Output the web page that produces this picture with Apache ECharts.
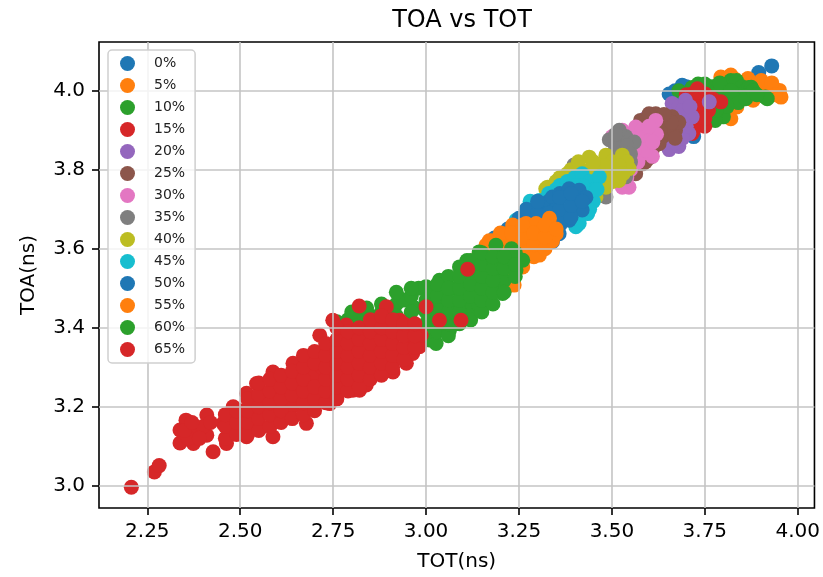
<!DOCTYPE html>
<html>
<head>
<meta charset="utf-8">
<script src="https://cdn.jsdelivr.net/npm/echarts@6/dist/echarts.min.js"></script>
<style>
  html, body { margin: 0; padding: 0; background: #fff; }
  #chart { width: 823px; height: 577px; }
</style>
</head>
<body>
<div id="chart"></div>
<script>
// Legend names, one per measurement set
const levels = ['0%', '5%', '10%', '15%', '20%', '25%', '30%', '35%', '40%', '45%', '50%', '55%', '60%', '65%'];

// Tick values on each axis
const xTicks = [2.25, 2.50, 2.75, 3.00, 3.25, 3.50, 3.75, 4.00];
const yTicks = [3.0, 3.2, 3.4, 3.6, 3.8, 4.0];

// [TOT, TOA] pairs in ns for each level
const p00 = [[3.654,3.992],[3.665,3.98],[3.689,4.014],[3.70,3.97],[3.72,3.884],[3.73,3.95],[3.75,3.99],[3.78,4.00],[3.81,3.99],[3.85,4.00],[3.895,4.046],[3.93,4.063],
  [3.67,4.00],[3.70,4.01],[3.72,4.00],[3.76,4.01],[3.83,4.01]];
const p05 = [[3.72,3.97],[3.74,4.01],[3.76,3.98],[3.793,4.035],[3.80,3.95],[3.814,4.035],[3.82,4.04],[3.82,3.929],[3.836,3.959],[3.85,4.02],[3.866,4.031],[3.87,3.99],[3.88,3.976],[3.89,4.01],[3.902,4.026],[3.92,4.00],[3.951,4.001],[3.955,3.984],[3.90,3.99],
  [3.83,4.03],[3.86,4.02],[3.93,4.02],[3.84,3.99],[3.81,3.95],[3.94,3.99],[3.78,3.94]];
const p10 = [[3.68,4.00],[3.716,4.008],[3.732,4.017],[3.75,4.017],[3.77,4.01],[3.786,3.976],[3.786,4.009],[3.80,3.99],[3.80,3.934],[3.82,4.026],[3.835,4.026],[3.83,3.992],[3.85,4.01],[3.86,4.001],[3.868,4.008],[3.875,4.009],[3.913,3.984],[3.918,3.98],[3.778,3.934],[3.778,3.925],[3.84,3.97],[3.76,3.96],
  [3.79,4.02],[3.82,4.00],[3.86,3.98],[3.88,4.00],[3.81,3.96],[3.89,3.99],[3.78,3.95]];
const p15 = [[3.70,3.99],[3.716,3.992],[3.73,4.005],[3.751,3.992],[3.725,3.959],[3.74,3.97],[3.743,3.917],[3.716,3.892],[3.73,3.93],[3.76,3.95],[3.75,3.91],[3.793,3.972],[3.77,3.98],
  [3.72,3.98],[3.74,3.94],[3.72,3.90],[3.76,3.97],[3.73,3.96],[3.75,3.93],[3.71,3.94]];
const p20 = [[3.591,3.93],[3.645,3.876],[3.654,3.851],[3.662,3.968],[3.662,3.908],[3.68,3.959],[3.68,3.859],[3.68,3.90],[3.698,3.976],[3.70,3.94],[3.707,3.892],[3.716,3.934],[3.69,3.88],[3.762,3.972],[3.67,3.93],
  [3.66,3.94],[3.69,3.95],[3.70,3.91],[3.67,3.87],[3.71,3.96],[3.69,3.92],[3.66,3.89]];
const p25 = [[3.564,3.79],[3.582,3.815],[3.60,3.83],[3.609,3.851],[3.62,3.87],[3.636,3.884],[3.65,3.90],[3.671,3.90],[3.662,3.934],[3.618,3.942],[3.577,3.925],[3.60,3.942],[3.64,3.92],[3.654,3.908],[3.627,3.866],[3.68,3.92],[3.60,3.91],
  [3.59,3.82],[3.63,3.90],[3.66,3.92],[3.61,3.88],[3.64,3.94],[3.67,3.88]];
const p30 = [[3.501,3.884],[3.519,3.891],[3.528,3.90],[3.55,3.89],[3.564,3.908],[3.58,3.90],[3.60,3.884],[3.618,3.925],[3.62,3.89],[3.591,3.884],[3.57,3.86],[3.564,3.834],[3.58,3.84],[3.609,3.834],[3.55,3.80],[3.537,3.782],[3.528,3.756],[3.546,3.756],[3.59,3.87],[3.56,3.87],
  [3.54,3.87],[3.57,3.88],[3.60,3.91],[3.57,3.82],[3.59,3.85],[3.56,3.85],[3.61,3.87],[3.54,3.78]];
const p35 = [[3.398,3.812],[3.484,3.731],[3.484,3.756],[3.50,3.80],[3.493,3.876],[3.51,3.86],[3.52,3.83],[3.53,3.88],[3.537,3.884],[3.537,3.782],[3.546,3.851],[3.55,3.82],[3.56,3.87],[3.52,3.90],[3.50,3.84],
  [3.52,3.86],[3.54,3.86],[3.51,3.89],[3.55,3.84],[3.53,3.81],[3.49,3.78]];
const p40 = [[3.278,3.70],[3.322,3.752],[3.327,3.756],[3.36,3.78],[3.39,3.80],[3.41,3.82],[3.439,3.832],[3.46,3.81],[3.484,3.837],[3.50,3.82],[3.51,3.80],[3.528,3.837],[3.546,3.803],[3.519,3.773],[3.484,3.756],[3.457,3.731],[3.439,3.706],[3.47,3.78],[3.43,3.77],[3.49,3.79],[3.54,3.82],
  [3.35,3.77],[3.38,3.79],[3.44,3.80],[3.46,3.76],[3.48,3.81],[3.50,3.77],[3.52,3.81],[3.45,3.82],[3.53,3.79]];
const p45 = [[3.242,3.672],[3.27,3.70],[3.305,3.714],[3.305,3.722],[3.33,3.74],[3.36,3.76],[3.38,3.77],[3.40,3.78],[3.42,3.79],[3.44,3.77],[3.448,3.748],[3.466,3.782],[3.435,3.689],[3.412,3.664],[3.403,3.656],[3.45,3.72],[3.39,3.73],
  [3.28,3.72],[3.35,3.75],[3.42,3.76],[3.46,3.75],[3.44,3.70],[3.40,3.76]];
const p50 = [[3.184,3.627],[3.22,3.65],[3.25,3.677],[3.269,3.681],[3.29,3.70],[3.30,3.68],[3.322,3.698],[3.33,3.72],[3.34,3.731],[3.34,3.618],[3.35,3.70],[3.358,3.638],[3.36,3.74],[3.37,3.69],[3.385,3.752],[3.385,3.672],[3.40,3.72],[3.412,3.748],[3.42,3.698],[3.43,3.73],[3.36,3.66],[3.31,3.67],
  [3.21,3.64],[3.24,3.66],[3.27,3.67],[3.27,3.70],[3.30,3.69],[3.30,3.72],[3.33,3.66],[3.33,3.69],[3.36,3.67],[3.36,3.70],[3.36,3.73],[3.39,3.68],[3.39,3.71],[3.39,3.74],[3.42,3.72]];
const p55 = [[3.143,3.588],[3.161,3.609],[3.18,3.62],[3.20,3.60],[3.215,3.638],[3.22,3.58],[3.233,3.66],[3.24,3.62],[3.237,3.508],[3.25,3.64],[3.25,3.59],[3.26,3.554],[3.269,3.664],[3.27,3.62],[3.28,3.60],[3.29,3.65],[3.296,3.664],[3.30,3.63],[3.305,3.584],[3.31,3.61],[3.32,3.65],[3.332,3.677],[3.34,3.62],[3.35,3.638],[3.26,3.60],[3.23,3.53],
  [3.17,3.59],[3.17,3.62],[3.20,3.58],[3.20,3.61],[3.20,3.64],[3.23,3.55],[3.23,3.58],[3.23,3.61],[3.23,3.64],[3.26,3.57],[3.26,3.63],[3.26,3.66],[3.29,3.58],[3.29,3.61],[3.29,3.64],[3.32,3.60],[3.32,3.63],[3.32,3.66],[3.35,3.65]];
const p60 = [[2.76,3.415],[2.79,3.42],[2.82,3.427],[2.85,3.43],[2.866,3.427],[2.88,3.44],[2.90,3.45],[2.92,3.46],[2.94,3.47],[2.96,3.48],[2.97,3.45],[2.98,3.50],[3.00,3.504],[3.00,3.47],[3.01,3.43],[3.009,3.369],[3.02,3.49],[3.027,3.36],[3.03,3.45],[3.036,3.52],[3.04,3.41],[3.05,3.48],[3.054,3.394],[3.06,3.53],[3.063,3.394],[3.07,3.46],[3.08,3.50],[3.09,3.554],[3.09,3.43],[3.10,3.48],[3.11,3.57],[3.11,3.52],[3.12,3.45],[3.13,3.50],[3.14,3.55],[3.143,3.592],[3.143,3.453],[3.15,3.48],[3.16,3.52],[3.17,3.57],[3.18,3.50],[3.188,3.609],[3.19,3.54],[3.20,3.58],[3.206,3.487],[3.21,3.52],[3.22,3.56],[3.23,3.60],[3.242,3.546],[3.26,3.571],[3.24,3.59],[3.08,3.41],[3.02,3.40],
  [2.80,3.41],[2.80,3.44],[2.84,3.42],[2.84,3.45],[2.88,3.43],[2.88,3.46],[2.92,3.43],[2.92,3.49],[2.96,3.44],[2.96,3.50],[3.00,3.41],[3.00,3.44],[3.03,3.39],[3.03,3.42],[3.03,3.48],[3.03,3.51],[3.06,3.38],[3.06,3.41],[3.06,3.44],[3.06,3.47],[3.06,3.50],
  [3.09,3.41],[3.09,3.44],[3.09,3.47],[3.09,3.50],[3.09,3.53],[3.12,3.42],[3.12,3.48],[3.12,3.51],[3.12,3.54],[3.12,3.57],[3.15,3.44],[3.15,3.47],[3.15,3.50],[3.15,3.53],[3.15,3.56],[3.15,3.59],
  [3.18,3.46],[3.18,3.49],[3.18,3.52],[3.18,3.55],[3.18,3.58],[3.21,3.49],[3.21,3.55],[3.21,3.58],[3.24,3.53],[3.24,3.56]];
const p65 = [[2.207,2.996],[2.269,3.035],[2.282,3.051],[2.338,3.141],[2.338,3.108],[2.354,3.166],[2.374,3.107],[2.383,3.145],[2.41,3.179],[2.41,3.128],[2.427,3.086],[2.36,3.12],[2.40,3.15],[2.454,3.158],[2.463,3.107],[2.481,3.20],[2.47,3.13],[2.49,3.17],[2.50,3.19],[2.517,3.124],[2.517,3.234],[2.52,3.15],[2.53,3.21],[2.544,3.259],[2.553,3.145],[2.55,3.18],[2.56,3.23],[2.57,3.20],[2.588,3.124],[2.588,3.288],[2.59,3.16],[2.59,3.24],[2.60,3.21],[2.61,3.27],[2.62,3.18],[2.62,3.23],[2.63,3.25],[2.642,3.31],[2.64,3.20],[2.65,3.28],[2.66,3.23],[2.67,3.26],[2.678,3.158],[2.68,3.30],[2.68,3.20],[2.69,3.24],[2.696,3.217],[2.70,3.28],[2.70,3.33],[2.714,3.381],[2.72,3.25],[2.72,3.30],[2.73,3.35],[2.741,3.208],[2.749,3.419],[2.749,3.259],[2.75,3.30],[2.76,3.33],[2.77,3.28],[2.77,3.37],[2.785,3.407],[2.79,3.31],[2.80,3.35],[2.803,3.242],[2.81,3.29],[2.82,3.38],[2.82,3.455],[2.821,3.242],[2.83,3.32],[2.839,3.255],[2.85,3.35],[2.85,3.29],[2.86,3.40],[2.87,3.33],[2.88,3.37],[2.893,3.453],[2.893,3.407],[2.90,3.31],[2.91,3.35],[2.911,3.288],[2.92,3.39],[2.929,3.419],[2.93,3.33],[2.947,3.31],[2.95,3.37],[2.964,3.335],[2.97,3.40],[2.982,3.352],[2.987,3.381],[3.00,3.453],[3.036,3.419],[3.094,3.419],[3.112,3.548],
  [2.35,3.14],[2.39,3.12],[2.42,3.16],[2.37,3.16],
  [2.46,3.12],[2.46,3.15],[2.46,3.18],[2.49,3.13],[2.49,3.16],[2.49,3.19],[2.52,3.13],[2.52,3.16],[2.52,3.19],[2.52,3.22],
  [2.55,3.14],[2.55,3.17],[2.55,3.20],[2.55,3.23],[2.55,3.26],[2.58,3.15],[2.58,3.18],[2.58,3.21],[2.58,3.24],[2.58,3.27],
  [2.61,3.16],[2.61,3.19],[2.61,3.22],[2.61,3.25],[2.61,3.28],[2.64,3.17],[2.64,3.23],[2.64,3.26],[2.64,3.29],
  [2.67,3.18],[2.67,3.21],[2.67,3.24],[2.67,3.27],[2.67,3.30],[2.67,3.33],[2.70,3.19],[2.70,3.22],[2.70,3.25],[2.70,3.31],[2.70,3.34],
  [2.73,3.21],[2.73,3.24],[2.73,3.27],[2.73,3.30],[2.73,3.33],[2.73,3.36],[2.76,3.22],[2.76,3.25],[2.76,3.28],[2.76,3.31],[2.76,3.34],[2.76,3.37],[2.76,3.40],
  [2.79,3.24],[2.79,3.27],[2.79,3.30],[2.79,3.33],[2.79,3.36],[2.79,3.39],[2.82,3.25],[2.82,3.28],[2.82,3.31],[2.82,3.34],[2.82,3.37],[2.82,3.40],
  [2.85,3.27],[2.85,3.30],[2.85,3.33],[2.85,3.36],[2.85,3.39],[2.85,3.42],[2.88,3.28],[2.88,3.31],[2.88,3.34],[2.88,3.37],[2.88,3.40],[2.88,3.43],
  [2.91,3.30],[2.91,3.33],[2.91,3.36],[2.91,3.39],[2.91,3.42],[2.94,3.32],[2.94,3.35],[2.94,3.38],[2.94,3.41],[2.97,3.35],[2.97,3.38],[2.97,3.41]];

const levelPoints = [p00, p05, p10, p15, p20, p25, p30, p35, p40, p45, p50, p55, p60, p65];

// matplotlib tab10 cycle
const palette = ['#1f77b4', '#ff7f0e', '#2ca02c', '#d62728', '#9467bd', '#8c564b', '#e377c2', '#7f7f7f', '#bcbd22', '#17becf'];

const FONT = 'DejaVu Sans';
const chart = echarts.init(document.getElementById('chart'), null, { renderer: 'canvas' });

const gridLine = { show: true, lineStyle: { color: '#c4c4c4', width: 1.6 } };
const tickStyle = { show: true, inside: false, length: 7, lineStyle: { color: '#000', width: 1.6 } };

chart.setOption({
  animation: false,
  backgroundColor: '#fff',
  title: {
    text: 'TOA vs TOT',
    left: 457, textAlign: 'center', top: 4,
    textStyle: { fontFamily: FONT, fontSize: 24, fontWeight: 'normal', color: '#000' }
  },
  grid: {
    left: 99, right: 7, top: 42, bottom: 69,
    show: true, borderColor: '#000', borderWidth: 1.6, backgroundColor: 'transparent'
  },
  legend: {
    orient: 'vertical', left: 108, top: 50,
    data: levels, icon: 'circle',
    itemWidth: 15, itemHeight: 15, itemGap: 7,
    padding: [6, 10, 6, 12],
    borderColor: '#cfcfcf', borderWidth: 1.5, borderRadius: 4,
    backgroundColor: 'rgba(255,255,255,0.8)',
    textStyle: { fontFamily: FONT, fontSize: 14, color: '#222', padding: [0, 0, 0, 14] },
    selectedMode: false
  },
  xAxis: {
    type: 'value', min: 2.120, max: 4.045, z: 3,
    name: 'TOT(ns)', nameLocation: 'middle', nameGap: 44,
    nameTextStyle: { fontFamily: FONT, fontSize: 20, color: '#000' },
    axisLine: { show: false },
    axisTick: Object.assign({ customValues: xTicks }, tickStyle),
    axisLabel: { customValues: xTicks, margin: 14, fontFamily: FONT, fontSize: 20, color: '#000',
                 formatter: v => v.toFixed(2) },
    splitLine: gridLine
  },
  yAxis: {
    type: 'value', min: 2.9436, max: 4.1235, z: 3,
    name: 'TOA(ns)', nameLocation: 'middle', nameGap: 60,
    nameTextStyle: { fontFamily: FONT, fontSize: 20, color: '#000' },
    axisLine: { show: false },
    axisTick: Object.assign({ customValues: yTicks }, tickStyle),
    axisLabel: { customValues: yTicks, margin: 14, fontFamily: FONT, fontSize: 20, color: '#000',
                 formatter: v => v.toFixed(1) },
    splitLine: gridLine
  },
  series: levels.map((name, i) => ({
    name: name,
    type: 'scatter',
    data: levelPoints[i],
    symbol: 'circle',
    symbolSize: 15,
    itemStyle: { color: palette[i % palette.length], opacity: 1 },
    emphasis: { disabled: true }
  }))
});
</script>
</body>
</html>
